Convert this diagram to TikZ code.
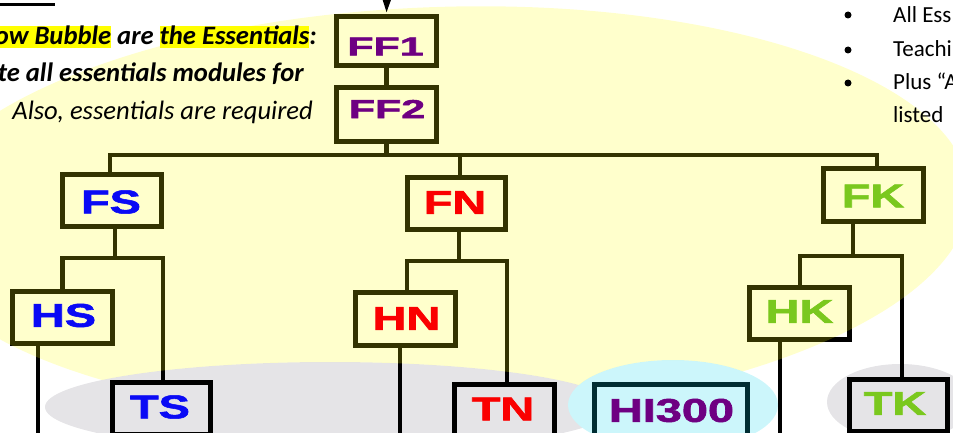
\documentclass[tikz,border=0pt]{standalone}
\usepackage{fontspec}
\usepackage{graphicx}
\setmainfont{Carlito}
\newfontfamily\boxfont{Liberation Sans}[BoldFeatures={FakeBold=1.6}]
\usetikzlibrary{arrows.meta}
\definecolor{grayfill}{RGB}{229,228,231}
\definecolor{cyanfill}{RGB}{204,246,251}
\definecolor{bubble}{RGB}{255,255,0}
\definecolor{hiyellow}{RGB}{255,255,0}
\definecolor{ffpurple}{RGB}{110,0,130}
\definecolor{sblue}{RGB}{10,10,245}
\definecolor{nred}{RGB}{250,0,0}
\definecolor{kgreen}{RGB}{122,200,30}
\definecolor{tealborder}{RGB}{0,45,50}
\newcommand{\hlt}[1]{\begingroup\setlength{\fboxsep}{0pt}\colorbox{hiyellow}{\rule[-3pt]{0pt}{21pt}#1}\endgroup}
\newcommand{\wide}[2]{\scalebox{#1}[1]{#2}}
\begin{document}
\begin{tikzpicture}[x=1pt,y=-1pt,
  box/.style={draw=black, line width=5pt, rectangle, inner sep=0pt},
  conn/.style={draw=black, line width=4.5pt},
  busline/.style={draw=black, line width=3.5pt},
  lblbig/.style={inner sep=0pt, font=\boxfont\bfseries\fontsize{33}{33}\selectfont},
  lblsmall/.style={inner sep=0pt, font=\boxfont\bfseries\fontsize{26}{26}\selectfont},
  bul/.style={circle, fill=black, inner sep=0pt, minimum size=7pt},
  lefttext/.style={anchor=base east, inner sep=0pt, text=black},
  righttext/.style={anchor=base west, inner sep=0pt, text=black, font=\fontsize{23}{28}\selectfont}
]
\clip (0,0) rectangle (953,433);

% coloured bubbles below the tree
\fill[grayfill] (330,407) ellipse [x radius=285pt, y radius=45pt];
\fill[cyanfill] (673,405) ellipse [x radius=105pt, y radius=45pt];
\fill[grayfill] (900,402) ellipse [x radius=73pt, y radius=38pt];

% boxes
\node[box, minimum width=100pt, minimum height=49pt] (ff1) at (386.5,41) {};
\node[box, minimum width=100pt, minimum height=54pt] (ff2) at (386.5,114.5) {};
\node[box, minimum width=99pt, minimum height=52pt] (fs) at (112,200.5) {};
\node[box, minimum width=98pt, minimum height=52pt] (fn) at (456.5,203.5) {};
\node[box, minimum width=100pt, minimum height=53pt] (fk) at (873.5,195) {};
\node[box, minimum width=100pt, minimum height=52pt] (hs) at (62.5,317.5) {};
\node[box, minimum width=100pt, minimum height=53pt] (hn) at (405.5,319) {};
\node[box, minimum width=100pt, minimum height=52pt] (hk) at (799.5,313.5) {};
\node[box, minimum width=98pt, minimum height=52pt] (ts) at (161.5,408.5) {};
\node[box, minimum width=100pt, minimum height=52pt] (tn) at (504.5,410.5) {};
\node[box, draw=tealborder, minimum width=153pt, minimum height=52pt] (hi) at (671,410.5) {};
\node[box, minimum width=98pt, minimum height=52pt] (tk) at (898.5,405.5) {};

% connectors
\draw[conn] (ff1.south) -- (ff2.north);
\coordinate (bus) at (386.5,155);
\coordinate (fsTop) at ([xshift=-2pt]fs.north);
\coordinate (fnTop) at ([xshift=3.5pt]fn.north);
\coordinate (fkTop) at ([xshift=3.5pt]fk.north);
\draw[busline] (fsTop) |- (bus) -| (fkTop);
\draw[conn] (ff2.south) -- (ff2.south |- bus);
\draw[conn] (fnTop) -- (fnTop |- bus);

\coordinate (sbS) at (112,258);
\coordinate (fsBot) at ([xshift=3pt]fs.south);
\coordinate (tsTop) at ([xshift=1.5pt]ts.north);
\draw[conn] (fsBot) -- (fsBot |- sbS);
\draw[conn] (hs.north) |- (sbS) -| (tsTop);

\coordinate (sbN) at (456.5,261);
\coordinate (fnBot) at ([xshift=2.5pt]fn.south);
\coordinate (hnTop) at ([xshift=1.5pt]hn.north);
\coordinate (tnTop) at ([xshift=2.5pt]tn.north);
\draw[conn] (fnBot) -- (fnBot |- sbN);
\draw[conn] (hnTop) |- (sbN) -| (tnTop);

\coordinate (sbK) at (853,256);
\coordinate (fkBot) at ([xshift=-20.5pt]fk.south);
\coordinate (hkTop) at ([xshift=0.5pt]hk.north);
\coordinate (tkTop) at ([xshift=3.5pt]tk.north);
\draw[conn] (fkBot) -- (fkBot |- sbK);
\draw[conn] (hkTop) |- (sbK) -| (tkTop);

\coordinate (hsEnd) at (38,445);
\coordinate (hnEnd) at (400,445);
\coordinate (hkEnd) at (780,445);
\draw[conn] ([xshift=-24.5pt]hs.south) -- (hsEnd);
\draw[conn] ([xshift=-5.5pt]hn.south) -- (hnEnd);
\draw[conn] ([xshift=-19.5pt]hk.south) -- (hkEnd);

% translucent yellow bubble, kept off the grey and cyan bubbles
\begin{scope}[even odd rule]
\clip (-20,-20) rectangle (980,460) (330,407) ellipse [x radius=285pt, y radius=45pt];
\begin{scope}[even odd rule]
\clip (-20,-20) rectangle (980,460) (673,405) ellipse [x radius=105pt, y radius=45pt];
\begin{scope}[even odd rule]
\clip (-20,-20) rectangle (980,460) (900,402) ellipse [x radius=73pt, y radius=38pt];
\fill[bubble, opacity=0.2, rotate around={2:(440,212)}] (440,212) ellipse [x radius=530pt, y radius=205pt];
\end{scope}
\end{scope}
\end{scope}

% arrow and top-left rule
\coordinate (arrtop) at (387,-10);
\draw[line width=2pt, shorten >=1.5pt, -{Triangle[length=13pt,width=8pt]}] (arrtop) -- (ff1.north);
\coordinate (tl1) at (0,4.5);
\coordinate (tl2) at (55,4.5);
\draw[line width=2.5pt] (tl1) -- (tl2);

% box labels
\node[lblsmall, text=ffpurple] (ff1t) at (385.5,46.5) {\wide{1.65}{FF1}};
\node[lblsmall, text=ffpurple] (ff2t) at (387,109) {\wide{1.65}{FF2}};
\node[lblbig, text=sblue] (fst) at (111,202) {\wide{1.42}{FS}};
\node[lblbig, text=nred] (fnt) at (455,202.5) {\wide{1.42}{FN}};
\node[lblbig, text=kgreen] (fkt) at (873,196) {\wide{1.42}{FK}};
\node[lblbig, text=sblue] (hst) at (63.5,315.5) {\wide{1.42}{HS}};
\node[lblbig, text=nred] (hnt) at (406.5,318.5) {\wide{1.42}{HN}};
\node[lblbig, text=kgreen] (hkt) at (799.5,311.5) {\wide{1.42}{HK}};
\node[lblbig, text=sblue] (tst) at (160,407) {\wide{1.42}{TS}};
\node[lblbig, text=nred] (tnt) at (503,409) {\wide{1.42}{TN}};
\node[lblbig, text=ffpurple] (hit) at (671.5,410.5) {\wide{1.42}{HI300}};
\node[lblbig, text=kgreen] (tkt) at (895,403.5) {\wide{1.42}{TK}};

% left text
\node[lefttext, font=\fontsize{26.6}{31}\selectfont\bfseries\itshape] (l1) at (317,45) {\hlt{ow Bubble} are \hlt{the Essentials}:};
\node[lefttext, font=\fontsize{26.6}{31}\selectfont\bfseries\itshape] (l2) at (304,82) {te all essentials modules for};
\node[lefttext, font=\fontsize{26.6}{31}\selectfont\itshape] (l3) at (313,120) {Also, essentials are required};

% right bullets
\node[bul] (b1) at (848,15) {};
\node[bul] (b2) at (848,50) {};
\node[bul] (b3) at (848,83) {};
\node[righttext] (r1) at (893,23) {All Ess};
\node[righttext] (r2) at (893,57) {Teachi};
\node[righttext] (r3) at (893,90) {Plus “A};
\node[righttext] (r4) at (893,123) {listed};
\end{tikzpicture}
\end{document}
